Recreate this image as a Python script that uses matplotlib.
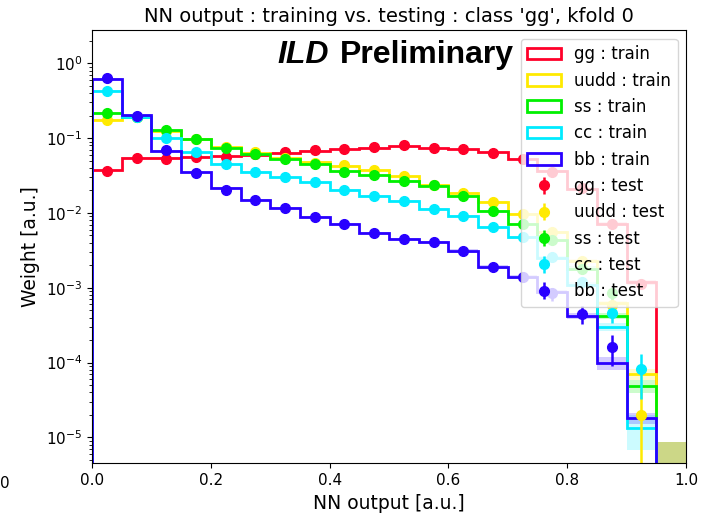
#!/usr/bin/env python3
"""Train vs. test NN output distributions for the 'gg' class (kfold 0)."""

import numpy as np
import matplotlib
matplotlib.use("Agg")
import matplotlib.pyplot as plt

# 20 bins of the NN output from 0 to 1
edges = np.linspace(0.0, 1.0, 21)
centers = 0.5 * (edges[:-1] + edges[1:])

classes = ["gg", "uudd", "ss", "cc", "bb"]
colors = ["#ff0029", "#ffea00", "#00f000", "#00ebff", "#2900ff"]

# training histograms (normalised weights)
gg_train = [0.037, 0.055, 0.055, 0.056, 0.057, 0.060, 0.064, 0.068, 0.071, 0.074,
            0.078, 0.073, 0.071, 0.065, 0.053, 0.036, 0.021, 0.0072, 0.00118, 0.0]
uudd_train = [0.175, 0.19, 0.125, 0.098, 0.076, 0.064, 0.055, 0.048, 0.043, 0.037,
              0.031, 0.024, 0.0185, 0.0140, 0.0097, 0.0055, 0.0023, 0.00062, 7.0e-5, 0.0]
ss_train = [0.216, 0.19, 0.128, 0.096, 0.074, 0.061, 0.052, 0.045, 0.036, 0.032,
            0.027, 0.023, 0.0168, 0.0107, 0.0071, 0.0043, 0.0018, 0.00042, 4.9e-5, 0.0]
cc_train = [0.43, 0.19, 0.099, 0.065, 0.045, 0.0356, 0.030, 0.0256, 0.0202, 0.0168,
            0.0144, 0.0113, 0.0090, 0.0065, 0.0047, 0.0025, 0.0011, 0.00030, 1.34e-5, 0.0]
bb_train = [0.62, 0.204, 0.068, 0.0349, 0.0217, 0.0149, 0.0117, 0.0088, 0.0072, 0.0054,
            0.0045, 0.0041, 0.0031, 0.0019, 0.0014, 0.00088, 0.00042, 9.8e-5, 1.8e-5, 0.0]

# relative statistical uncertainty of the training histograms (shaded bands)
gg_train_rel = [0.02, 0.02, 0.02, 0.02, 0.02, 0.02, 0.02, 0.02, 0.02, 0.02,
                0.02, 0.02, 0.02, 0.02, 0.02, 0.03, 0.03, 0.05, 0.08, 0.0]
uudd_train_rel = [0.02, 0.02, 0.02, 0.02, 0.02, 0.02, 0.02, 0.02, 0.02, 0.02,
                  0.02, 0.03, 0.03, 0.03, 0.04, 0.05, 0.06, 0.08, 0.17, 0.0]
ss_train_rel = [0.02, 0.02, 0.02, 0.02, 0.02, 0.02, 0.02, 0.02, 0.02, 0.02,
                0.02, 0.03, 0.03, 0.03, 0.04, 0.05, 0.07, 0.1, 0.2, 0.0]
cc_train_rel = [0.02, 0.02, 0.02, 0.02, 0.02, 0.02, 0.02, 0.02, 0.02, 0.03,
                0.03, 0.03, 0.03, 0.04, 0.05, 0.06, 0.08, 0.12, 0.5, 0.0]
bb_train_rel = [0.02, 0.02, 0.02, 0.02, 0.02, 0.03, 0.03, 0.03, 0.03, 0.04,
                0.04, 0.04, 0.05, 0.06, 0.06, 0.07, 0.1, 0.2, 0.17, 0.0]
# the empty last bin still carries an uncertainty band for some classes
last_bin_err = [8.7e-6, 8.7e-6, 8.7e-6, 0.0, 0.0]

# testing points
gg_test = [0.0367, 0.0536, 0.0526, 0.0553, 0.0566, 0.061, 0.0658, 0.0693, 0.0722, 0.0753,
           0.0809, 0.0731, 0.0715, 0.0638, 0.0526, 0.0356, 0.0213, 0.00705, 0.00111, np.nan]
uudd_test = [0.175, 0.19, 0.125, 0.097, 0.076, 0.0645, 0.055, 0.047, 0.0437, 0.0375,
             0.0315, 0.0236, 0.0186, 0.0141, 0.0096, 0.0056, 0.0023, 0.00059, 2.0e-5, np.nan]
ss_test = [0.216, 0.19, 0.128, 0.0964, 0.0744, 0.0607, 0.0521, 0.0455, 0.0356, 0.0321,
           0.0267, 0.0234, 0.0168, 0.0107, 0.0071, 0.0043, 0.0018, 0.00084, np.nan, np.nan]
cc_test = [0.43, 0.19, 0.0993, 0.0646, 0.045, 0.0356, 0.0299, 0.0256, 0.0202, 0.0168,
           0.0144, 0.0113, 0.0090, 0.00654, 0.0048, 0.0026, 0.0012, 0.000455, 8.2e-5, np.nan]
bb_test = [0.63, 0.197, 0.069, 0.0346, 0.0202, 0.0148, 0.01175, 0.00881, 0.00718, 0.00544,
           0.00448, 0.00412, 0.0031, 0.00187, 0.0014, 0.00084, 0.000445, 0.000163, np.nan, np.nan]

# relative uncertainty of the testing points
gg_test_rel = [0.03, 0.03, 0.03, 0.03, 0.03, 0.03, 0.03, 0.03, 0.03, 0.03,
               0.03, 0.03, 0.03, 0.03, 0.03, 0.04, 0.05, 0.08, 0.12, 0.0]
uudd_test_rel = [0.03, 0.03, 0.03, 0.03, 0.03, 0.03, 0.03, 0.03, 0.03, 0.03,
                 0.04, 0.04, 0.05, 0.05, 0.06, 0.08, 0.12, 0.25, 1.2, 0.0]
ss_test_rel = [0.03, 0.03, 0.03, 0.03, 0.03, 0.03, 0.03, 0.03, 0.03, 0.04,
               0.04, 0.04, 0.05, 0.06, 0.07, 0.09, 0.13, 0.2, 0.0, 0.0]
cc_test_rel = [0.03, 0.03, 0.03, 0.03, 0.03, 0.03, 0.03, 0.04, 0.04, 0.04,
               0.05, 0.05, 0.06, 0.07, 0.08, 0.1, 0.15, 0.25, 0.6, 0.0]
bb_test_rel = [0.03, 0.03, 0.03, 0.03, 0.04, 0.04, 0.05, 0.05, 0.06, 0.06,
               0.07, 0.07, 0.08, 0.1, 0.12, 0.2, 0.27, 0.45, 0.0, 0.0]

train = [gg_train, uudd_train, ss_train, cc_train, bb_train]
train_rel = [gg_train_rel, uudd_train_rel, ss_train_rel, cc_train_rel, bb_train_rel]
test = [gg_test, uudd_test, ss_test, cc_test, bb_test]
test_rel = [gg_test_rel, uudd_test_rel, ss_test_rel, cc_test_rel, bb_test_rel]

fig = plt.figure(figsize=(7.04, 5.14), dpi=100)
ax = fig.add_axes([0.1307, 0.0986, 0.8437, 0.8421])
ax.set_yscale("log")

for name, col, tr, trel, lerr in zip(classes, colors, train, train_rel, last_bin_err):
    tr = np.array(tr)
    err = tr * np.array(trel)
    err[-1] = lerr
    lo = np.clip(tr - err, 1e-9, None)
    hi = np.where(err > 0, tr + err, 1e-9)
    ax.fill_between(edges, np.append(lo, lo[-1]), np.append(hi, hi[-1]),
                    step="post", color=col, alpha=0.2, lw=0)
    ax.hist(centers, bins=edges, weights=tr, histtype="step", color=col, lw=2,
            label=f"{name} : train")

for name, col, te, terel in zip(classes, colors, test, test_rel):
    te = np.array(te)
    yerr = np.nan_to_num(te) * np.array(terel)
    lower = np.minimum(yerr, np.nan_to_num(te) * 0.999)
    ax.errorbar(centers, te, yerr=[lower, yerr], fmt="o", color=col, ms=7,
                elinewidth=1.8, capsize=0, label=f"{name} : test")

ax.set_xlim(0, 1)
ax.set_ylim(4.5e-6, 2.75)
ax.set_xticks([0.0, 0.2, 0.4, 0.6, 0.8, 1.0])
ax.tick_params(axis="both", labelsize=11)
ax.set_xlabel("NN output [a.u.]", fontsize=13.5)
ax.set_ylabel("Weight [a.u.]", fontsize=13.5)
ax.set_title("NN output : training vs. testing : class 'gg', kfold 0", fontsize=14)

ax.text(0.3114, 0.943, "ILD", transform=ax.transAxes, fontsize=23,
        fontweight="bold", fontstyle="italic", family="Liberation Sans",
        ha="left", va="center")
ax.text(0.4175, 0.943, "Preliminary", transform=ax.transAxes, fontsize=23,
        fontweight="bold", family="Liberation Sans", ha="left", va="center")

ax.legend(loc="upper right", fontsize=12)

# partly visible tick label remnant at the left edge
fig.text(0, 1 - 483 / 514, "0", fontsize=11, ha="left", va="center")

fig.savefig("out.png", dpi=100)
